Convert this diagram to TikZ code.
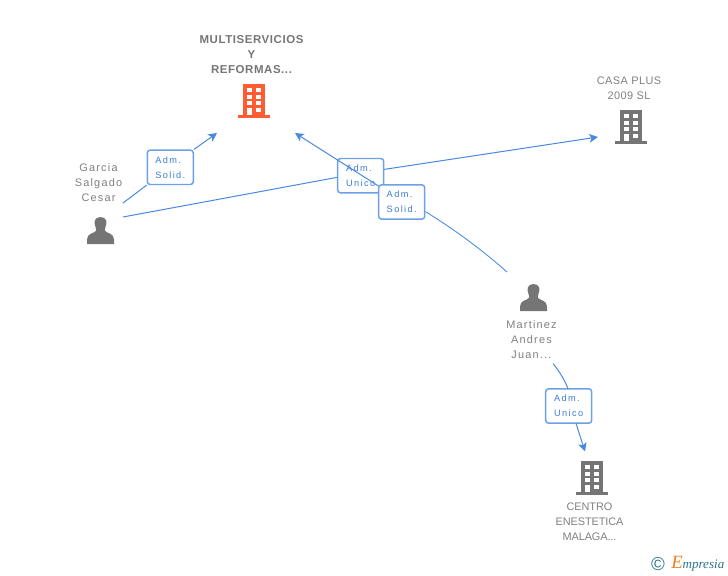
\documentclass[tikz,border=0pt]{standalone}
\usepackage{fontspec}
\setmainfont{Liberation Sans}
\newfontfamily\rolefont[LetterSpace=15]{Liberation Sans}
\newfontfamily\personfont[LetterSpace=11]{Liberation Sans}
\newfontfamily\casafont[LetterSpace=4]{Liberation Sans}
\newfontfamily\centrofont[LetterSpace=-1]{Liberation Sans}
\newfontfamily\boldfont[LetterSpace=5]{Liberation Sans Bold}
\newfontfamily\logofont{Liberation Serif Italic}
\usetikzlibrary{arrows.meta,shadings}
\definecolor{linkblue}{HTML}{4A88E2}
\definecolor{boxblue}{HTML}{6CA0E8}
\definecolor{textblue}{HTML}{3B7DDD}
\definecolor{namegray}{HTML}{808080}
\definecolor{icongray}{HTML}{757575}
\definecolor{iconorange}{HTML}{FF5C33}
\definecolor{logoteal}{HTML}{2F7488}
\definecolor{logoorange}{HTML}{F07F1A}
\tikzset{
  x=0.75pt,y=-0.75pt,
  link/.style={draw=linkblue,line width=0.75pt},
  arrowlink/.style={link,-{Stealth[length=6.5pt,width=6.5pt,inset=1.6pt]}},
  rolebox/.style={draw=boxblue,line width=1.1pt,rounded corners=2.2pt,fill=white,
    minimum width=34.5pt,minimum height=25.8pt,inner sep=0pt,align=left,text=textblue,
    font=\rolefont\fontsize{6.9}{11.2}\selectfont},
  namelabel/.style={align=center,text=namegray,inner sep=0pt,font=\personfont\fontsize{8.2}{11.25}\selectfont},
  casalabel/.style={namelabel,font=\casafont\fontsize{8.2}{11.25}\selectfont},
  centrolabel/.style={namelabel,font=\centrofont\fontsize{8.2}{11.25}\selectfont},
  boldlabel/.style={align=center,text=icongray,inner sep=0pt,font=\boldfont\fontsize{8.6}{11.25}\selectfont},
  pics/building/.style={code={
    \fill[#1] (-11,-16) rectangle (11,15);
    \fill[#1] (-16,15) rectangle (16,18);
    \foreach \yy in {-12,-5.5,1,8}{
      \fill[white] (-7.5,\yy) rectangle (-2.5,\yy+4.4);
      \fill[white] (2,\yy) rectangle (7,\yy+4.4);
    }
    \fill[white] (-7.5,10) rectangle (-2.5,15);
  }},
  pics/person/.style={code={
    \fill[#1] (0,-13.5) .. controls (-6,-13.5) and (-7,-8) .. (-5.2,-4.5)
      .. controls (-4.4,-2.5) and (-4.2,-1.5) .. (-4.2,0)
      .. controls (-6,3) and (-13.5,2.5) .. (-13.5,9)
      -- (-13.5,13.5) -- (13.5,13.5) -- (13.5,9)
      .. controls (13.5,2.5) and (6,3) .. (4.2,0)
      .. controls (4.2,-1.5) and (4.4,-2.5) .. (5.2,-4.5)
      .. controls (7,-8) and (6,-13.5) .. (0,-13.5) -- cycle;
  }}
}
\begin{document}
\begin{tikzpicture}
\useasboundingbox (0,0) rectangle (728,575);
% icons
\pic at (254,100) {building=iconorange};
\pic at (631,126) {building=icongray};
\pic at (592,477) {building=icongray};
\pic at (100.5,230.5) {person=icongray};
\pic at (533.5,297.5) {person=icongray};
% labels
\node[boldlabel] (multi) at (251.5,55) {MULTISERVICIOS\\Y\\REFORMAS...};
\node[casalabel] (casa) at (629,88.5) {CASA PLUS\\2009 SL};
\node[namelabel] (garcia) at (98.5,183) {Garcia\\Salgado\\Cesar};
\node[namelabel] (martinez) at (531.5,340) {Martinez\\Andres\\Juan...};
\node[centrolabel] (centro) at (589.5,522) {CENTRO\\ENESTETICA\\MALAGA...};
% free ends
\coordinate (g1) at (123,203);
\coordinate (g2) at (123,217);
\coordinate (multiR) at (217,133);
\coordinate (multiL) at (295,133);
\coordinate (casaEnd) at (598,137);
\coordinate (m1) at (507,272);
\coordinate (m2) at (553,363.5);
\coordinate (centroEnd) at (585,451.5);
% first boxes and links
\node[rolebox] (solidA) at (170.3,167.3) {Adm.\\Solid.};
\draw[link] (g1) -- (solidA.south west);
\draw[arrowlink] (solidA.north east) -- (multiR);
\draw[link] (g2) -- (338,177.2);
\draw[arrowlink] (383.5,169.5) -- (casaEnd);
\node[rolebox] (unicoA) at (360.7,175.7) {Adm.\\Unico};
\draw[arrowlink] (378.5,186) -- (multiL);
\node[rolebox] (solidB) at (401.7,202) {Adm.\\Solid.};
\draw[link,line width=0.65pt] (m1) .. controls (480,248) and (452,228) .. ([yshift=-7.2pt]solidB.east);
\node[rolebox] (unicoB) at (568.7,406) {Adm.\\Unico};
\draw[link] (m2) .. controls (560,372) and (565,381) .. (568,388.7);
\draw[arrowlink] (576,423.3) -- (centroEnd);
% logo
\node[inner sep=0pt,text=logoteal,font=\fontsize{14}{14}\selectfont] (copyr) at (658,564) {©};
\node[inner sep=0pt,anchor=west,font=\logofont\fontsize{9.8}{12}\selectfont] (logo) at (671,563.5) {\textcolor{logoorange}{\fontsize{14}{12}\selectfont E}\textcolor{logoteal}{mpresia}};
\end{tikzpicture}
\end{document}
